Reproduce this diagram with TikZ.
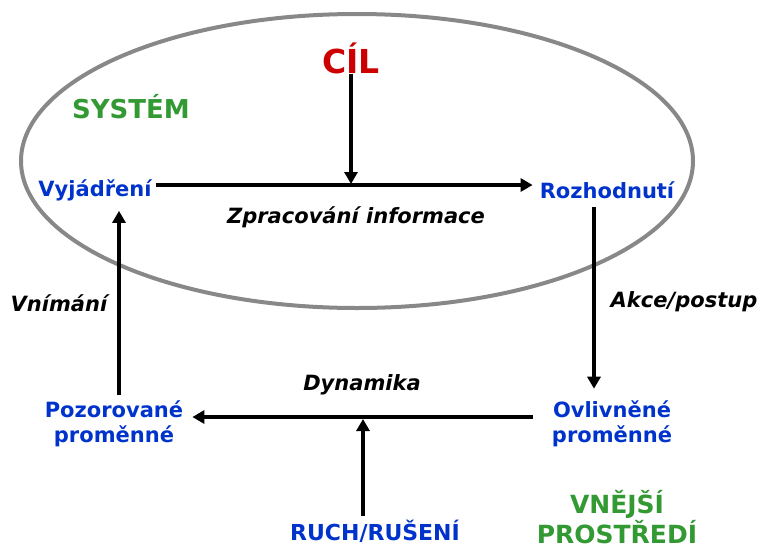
\documentclass[tikz,border=0pt]{standalone}
\usepackage{fontspec}
\setmainfont{DejaVu Sans}
\usetikzlibrary{arrows.meta}
\definecolor{sysgreen}{HTML}{339933}
\definecolor{varblue}{HTML}{0033CC}
\definecolor{goalred}{HTML}{CC0000}
\definecolor{rimgray}{HTML}{888888}
\begin{document}
\begin{tikzpicture}[x=1pt,y=-1pt,
  flow/.style={line width=4pt,-{Triangle[length=12pt,width=13pt]}},
  var/.style={font=\bfseries\fontsize{21}{25}\selectfont,text=varblue,align=center,inner sep=0pt},
  act/.style={font=\bfseries\itshape\fontsize{21}{25}\selectfont,inner sep=0pt},
  region/.style={font=\bfseries\fontsize{26}{29}\selectfont,text=sysgreen,align=center,inner sep=0pt},
  goal/.style={font=\bfseries\fontsize{33}{38}\selectfont,text=goalred,inner sep=0pt}]
\useasboundingbox (0,0) rectangle (763,552);
% system boundary
\draw[rimgray,line width=4pt] (357,161) ellipse [x radius=336pt,y radius=147pt];
% texts
\node[goal] (cil) at (351,58) {CÍL};
\node[region] (sys) at (131,107) {SYSTÉM};
\node[var] (vyj) at (95,190) {Vyjádření};
\node[var] (roz) at (607,190) {Rozhodnutí};
\node[var] (ovl) at (612,424) {Ovlivněné\\proměnné};
\node[var] (poz) at (114,424) {Pozorované\\proměnné};
\node[var,font=\bfseries\fontsize{22}{26}\selectfont] (ruch) at (375,531) {RUCH/RUŠENÍ};
\node[region,font=\bfseries\fontsize{25}{28}\selectfont] (env) at (617,517) {VNĚJŠÍ\\PROSTŘEDÍ};
\node[act] (zpr) at (356,217) {Zpracování informace};
\node[act] (akce) at (684,302) {Akce/postup};
\node[act] (vnim) at (59,303) {Vnímání};
\node[act] (dyn) at (362,385) {Dynamika};
% junctions on the horizontal flows
\coordinate (j1) at (351,184);
\coordinate (j2) at (363,419);
% connectors
\draw[flow] (cil.south) -- (j1);
\draw[flow] ([xshift=4pt,yshift=5pt]vyj.east) -- ([xshift=-7pt,yshift=5pt]roz.west);
\draw[flow] ([xshift=-13pt,yshift=-8pt]roz.south) -- ([xshift=-18pt,yshift=12pt]ovl.north);
\draw[flow] ([xshift=-19pt,yshift=7pt]ovl.west) -- ([xshift=9pt,yshift=7pt]poz.east);
\draw[flow] ([xshift=-12pt,yshift=4pt]ruch.north) -- (j2);
\draw[flow] ([xshift=5pt,yshift=6pt]poz.north) -- ([xshift=24pt,yshift=-10pt]vyj.south);
\end{tikzpicture}
\end{document}
